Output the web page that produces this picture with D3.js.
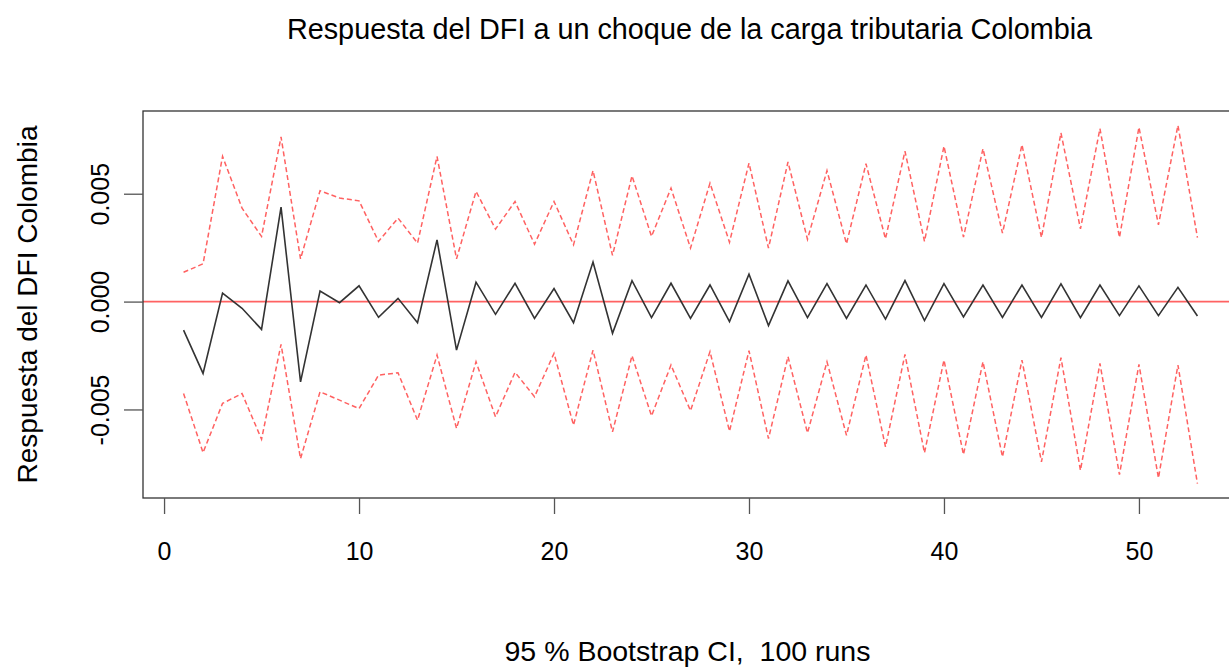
<!DOCTYPE html>
<html>
<head>
<meta charset="utf-8">
<script src="https://cdn.jsdelivr.net/npm/d3@7"></script>
<style>
  html, body { margin: 0; padding: 0; background: #fff; }
  svg { display: block; font-family: "Liberation Sans", Arial, sans-serif; }
</style>
</head>
<body>
<svg id="chart" width="1229" height="668"></svg>
<script>
// Impulse response of DFI to a tax-burden shock, with 95% bootstrap bands
const horizon = d3.range(1, 54);

const irf = [
  -0.00132, -0.00333, 0.00039, -0.00031, -0.00129, 0.00438, -0.00372, 0.00049, -0.00005, 0.00073,
  -0.00073, 0.00015, -0.00098, 0.00286, -0.00225, 0.00090, -0.00059, 0.00085, -0.00078, 0.00060,
  -0.00098, 0.00183, -0.00147, 0.00097, -0.00074, 0.00085, -0.00078, 0.00077, -0.00093, 0.00127,
  -0.00111, 0.00096, -0.00074, 0.00083, -0.00078, 0.00077, -0.00081, 0.00097, -0.00088, 0.00083,
  -0.00071, 0.00077, -0.00073, 0.00077, -0.00073, 0.00082, -0.00074, 0.00077, -0.00065, 0.00073,
  -0.00065, 0.00066, -0.00067
];

const upper = [
  0.00136, 0.00175, 0.00673, 0.00433, 0.00302, 0.00763, 0.00198, 0.00514, 0.00480, 0.00467,
  0.00279, 0.00387, 0.00271, 0.00673, 0.00198, 0.00511, 0.00336, 0.00464, 0.00266, 0.00464,
  0.00263, 0.00607, 0.00214, 0.00583, 0.00302, 0.00526, 0.00248, 0.00549, 0.00275, 0.00642,
  0.00248, 0.00647, 0.00289, 0.00607, 0.00268, 0.00639, 0.00291, 0.00697, 0.00279, 0.00720,
  0.00299, 0.00709, 0.00317, 0.00727, 0.00297, 0.00782, 0.00337, 0.00802, 0.00297, 0.00808,
  0.00356, 0.00817, 0.00297
];

const lower = [
  -0.00426, -0.00700, -0.00472, -0.00426, -0.00638, -0.00198, -0.00728, -0.00418, -0.00457, -0.00496,
  -0.00341, -0.00330, -0.00550, -0.00248, -0.00588, -0.00279, -0.00534, -0.00328, -0.00441, -0.00240,
  -0.00573, -0.00225, -0.00604, -0.00251, -0.00530, -0.00294, -0.00506, -0.00232, -0.00601, -0.00228,
  -0.00635, -0.00255, -0.00609, -0.00279, -0.00620, -0.00248, -0.00673, -0.00245, -0.00701, -0.00271,
  -0.00709, -0.00279, -0.00720, -0.00271, -0.00743, -0.00260, -0.00782, -0.00287, -0.00802, -0.00291,
  -0.00818, -0.00294, -0.00844
];

const xTicks = [0, 10, 20, 30, 40, 50];
const yTicks = [-0.005, 0, 0.005];
const yTickLabels = ["-0.005", "0.000", "0.005"];

const titleText = "Respuesta del DFI a un choque de la carga tributaria Colombia";
const xLabelText = "95 % Bootstrap CI,  100 runs";
const yLabelText = "Respuesta del DFI Colombia";

const svg = d3.select("#chart");

// plot region (base-graphics style, 4% padding around the data range)
const plot = { left: 143, right: 1238, top: 111, bottom: 498 };

const allVals = irf.concat(upper, lower);
const yMin = d3.min(allVals), yMax = d3.max(allVals);
const yPad = (yMax - yMin) * 0.04;
const xPad = (horizon[horizon.length - 1] - horizon[0]) * 0.04;

const x = d3.scaleLinear()
  .domain([horizon[0] - xPad, horizon[horizon.length - 1] + xPad])
  .range([plot.left, plot.right]);

const y = d3.scaleLinear()
  .domain([yMin - yPad, yMax + yPad])
  .range([plot.bottom, plot.top]);

const clipId = "plotclip";
svg.append("defs").append("clipPath").attr("id", clipId)
  .append("rect")
  .attr("x", plot.left).attr("y", plot.top)
  .attr("width", plot.right - plot.left).attr("height", plot.bottom - plot.top);

const g = svg.append("g").attr("clip-path", `url(#${clipId})`);

const line = (arr) => d3.line()
  .x((d, i) => x(horizon[i]))
  .y(d => y(d))(arr);

// zero reference line
g.append("line")
  .attr("x1", plot.left).attr("x2", plot.right)
  .attr("y1", y(0)).attr("y2", y(0))
  .attr("stroke", "#ff3b3b").attr("stroke-opacity", 0.8).attr("stroke-width", 1.7);

// confidence bands
[upper, lower].forEach(band => {
  g.append("path")
    .attr("d", line(band))
    .attr("fill", "none")
    .attr("stroke", "#ff3a3a")
    .attr("stroke-opacity", 0.8)
    .attr("stroke-width", 1.5)
    .attr("stroke-dasharray", "5,3");
});

// point estimate
g.append("path")
  .attr("d", line(irf))
  .attr("fill", "none")
  .attr("stroke", "#333")
  .attr("stroke-width", 1.6);

// plot frame
svg.append("rect")
  .attr("x", plot.left).attr("y", plot.top)
  .attr("width", plot.right - plot.left).attr("height", plot.bottom - plot.top)
  .attr("fill", "none").attr("stroke", "#333").attr("stroke-width", 1.3);

// x axis
const xAxis = d3.axisBottom(x).tickValues(xTicks).tickSize(16).tickPadding(28).tickFormat(d3.format("d"));
const gx = svg.append("g").attr("transform", `translate(0,${plot.bottom})`).call(xAxis);
gx.select(".domain").remove();
gx.selectAll(".tick line").attr("stroke", "#555").attr("stroke-width", 1.3);
gx.selectAll(".tick text")
  .attr("fill", "#000")
  .style("font-size", "25px")
  .style("font-family", "Liberation Sans, Arial, sans-serif");

// y axis, labels rotated parallel to the axis
const yAxis = d3.axisLeft(y).tickValues(yTicks).tickSize(19)
  .tickFormat((d, i) => yTickLabels[i]);
const gy = svg.append("g").attr("transform", `translate(${plot.left},0)`).call(yAxis);
gy.select(".domain").remove();
gy.selectAll(".tick line").attr("stroke", "#555").attr("stroke-width", 1.3);
gy.selectAll(".tick text")
  .attr("x", null).attr("dy", null)
  .attr("transform", "translate(-34,0) rotate(-90)")
  .attr("text-anchor", "middle")
  .attr("dy", "0")
  .attr("y", 0)
  .attr("fill", "#000")
  .style("font-size", "25px")
  .style("font-family", "Liberation Sans, Arial, sans-serif");

const mid = (plot.left + plot.right) / 2 - 1;

svg.append("text")
  .attr("x", mid).attr("y", 39)
  .attr("text-anchor", "middle")
  .style("font-size", "28.8px")
  .attr("fill", "#000")
  .text(titleText);

svg.append("text")
  .attr("x", mid - 2).attr("y", 661)
  .attr("text-anchor", "middle")
  .style("font-size", "28.5px")
  .style("white-space", "pre")
  .attr("fill", "#000")
  .text(xLabelText);

svg.append("text")
  .attr("transform", `translate(37,${(plot.top + plot.bottom) / 2}) rotate(-90)`)
  .attr("text-anchor", "middle")
  .style("font-size", "28px")
  .attr("fill", "#000")
  .text(yLabelText);
</script>
</body>
</html>
